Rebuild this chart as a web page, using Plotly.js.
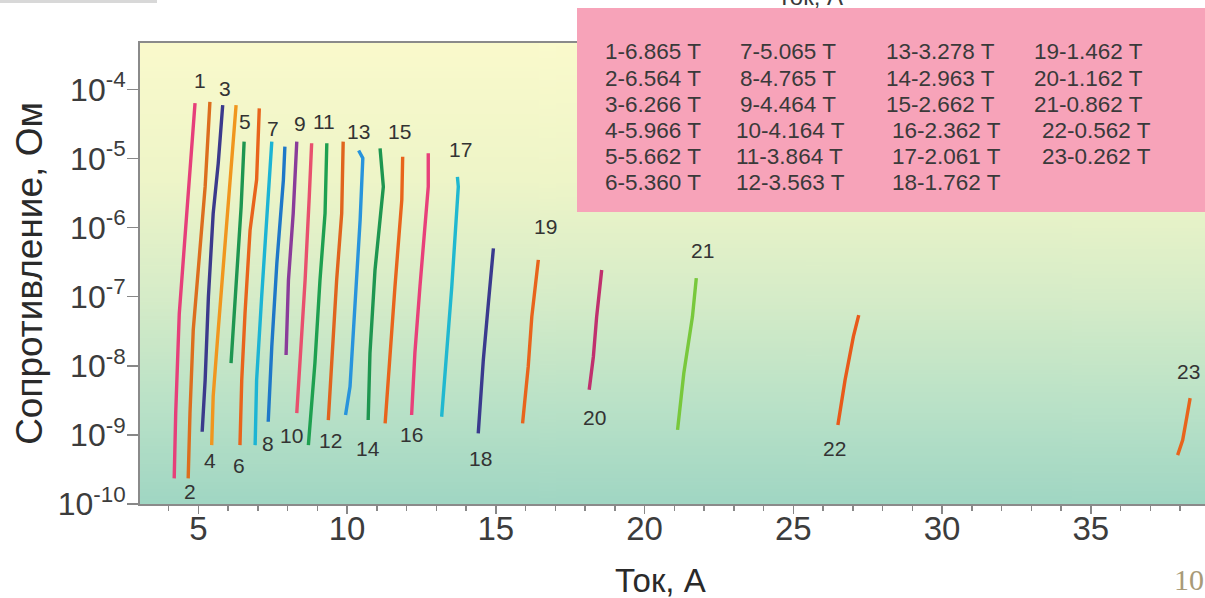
<!DOCTYPE html>
<html>
<head>
<meta charset="utf-8">
<script src="https://cdn.plot.ly/plotly-3.0.1.min.js"></script>
<style>
  html, body { margin: 0; padding: 0; background: #ffffff; }
  #chart { width: 1205px; height: 598px; }
</style>
</head>
<body>
<div id="chart"></div>
<script>
// ---- Data (current in A, resistance in Ohm), bottom -> top of each curve ----
const I1 = [4.19, 4.24, 4.36, 4.61, 4.80, 4.89];
const R1 = [2.35e-10, 2.06e-9, 5.7e-8, 1.61e-6, 1.48e-5, 6.3e-5];
const I2 = [4.66, 4.72, 4.83, 5.06, 5.23, 5.39];
const R2 = [2.35e-10, 2.06e-9, 3.3e-8, 5.3e-7, 3.9e-6, 6.6e-5];
const I3 = [5.13, 5.23, 5.34, 5.50, 5.67, 5.82];
const R3 = [1.11e-9, 6.2e-9, 1.0e-7, 1.6e-6, 8.5e-6, 5.9e-5];
const I4 = [5.45, 5.50, 5.67, 5.90, 6.12, 6.27];
const R4 = [7.1e-10, 3.6e-9, 3.3e-8, 5.3e-7, 8.5e-6, 5.9e-5];
const I5 = [6.10, 6.27, 6.44, 6.54];
const R5 = [1.09e-8, 1.74e-7, 2.0e-6, 1.75e-5];
const I6 = [6.40, 6.46, 6.57, 6.74, 6.96, 7.05];
const R6 = [7.1e-10, 6.2e-9, 5.7e-8, 9.2e-7, 4.9e-6, 5.3e-5];
const I7 = [6.91, 6.96, 7.13, 7.30, 7.47];
const R7 = [7.1e-10, 6.2e-9, 1.0e-7, 1.6e-6, 1.75e-5];
const I8 = [7.35, 7.47, 7.64, 7.86, 7.91];
const R8 = [1.55e-9, 1.89e-8, 3.04e-7, 4.9e-6, 1.48e-5];
const I9 = [7.95, 8.03, 8.19, 8.31];
const R9 = [1.43e-8, 1.74e-7, 1.6e-6, 1.75e-5];
const I10 = [8.31, 8.42, 8.59, 8.73, 8.81];
const R10 = [2.06e-9, 1.09e-8, 1.74e-7, 2.8e-6, 1.66e-5];
const I11 = [8.70, 8.92, 9.09, 9.26, 9.32];
const R11 = [7.1e-10, 1.09e-8, 1.74e-7, 1.6e-6, 1.66e-5];
const I12 = [9.37, 9.48, 9.65, 9.82, 9.87];
const R12 = [1.64e-9, 1.09e-8, 1.74e-7, 1.6e-6, 1.75e-5];
const I13 = [9.95, 10.10, 10.27, 10.44, 10.53, 10.39];
const R13 = [1.94e-9, 5.0e-9, 8.0e-8, 1.29e-6, 1.01e-5, 1.3e-5];
const I14 = [10.71, 10.77, 10.94, 11.22, 11.11];
const R14 = [1.64e-9, 1.52e-8, 2.43e-7, 3.9e-6, 1.40e-5];
const I15 = [11.28, 11.44, 11.61, 11.84, 11.87];
const R15 = [1.47e-9, 1.52e-8, 1.39e-7, 2.5e-6, 1.06e-5];
const I16 = [12.17, 12.28, 12.45, 12.73, 12.73];
const R16 = [1.94e-9, 1.52e-8, 1.39e-7, 3.9e-6, 1.19e-5];
const I17 = [13.18, 13.35, 13.52, 13.74, 13.71];
const R17 = [1.83e-9, 1.52e-8, 1.39e-7, 3.9e-6, 5.4e-6];
const I18 = [14.41, 14.58, 14.75, 14.92];
const R18 = [1.05e-9, 1.21e-8, 8.0e-8, 5.0e-7];
const I19 = [15.90, 16.09, 16.21, 16.43];
const R19 = [1.47e-9, 9.7e-9, 5.1e-8, 3.4e-7];
const I20 = [18.14, 18.28, 18.39, 18.56];
const R20 = [4.5e-9, 1.35e-8, 5.1e-8, 2.43e-7];
const I21 = [21.11, 21.32, 21.61, 21.74];
const R21 = [1.18e-9, 7.8e-9, 5.1e-8, 1.85e-7];
const I22 = [26.50, 26.74, 27.02, 27.20];
const R22 = [1.39e-9, 6.2e-9, 2.64e-8, 5.4e-8];
const I23 = [37.92, 38.09, 38.23, 38.34];
const R23 = [5.1e-10, 8.4e-10, 1.83e-9, 3.4e-9];

// Magnetic field (T) of each curve, numbered 1..23
const fieldT = ["6.865", "6.564", "6.266", "5.966", "5.662", "5.360", "5.065", "4.765",
                "4.464", "4.164", "3.864", "3.563", "3.278", "2.963", "2.662", "2.362",
                "2.061", "1.762", "1.462", "1.162", "0.862", "0.562", "0.262"];

// Tick labels and titles
const xTickVals = [5, 10, 15, 20, 25, 30, 35];
const yTickVals = [1e-10, 1e-9, 1e-8, 1e-7, 1e-6, 1e-5, 1e-4];
const yTickText = ["10<sup>-10</sup>", "10<sup>-9</sup>", "10<sup>-8</sup>", "10<sup>-7</sup>",
                   "10<sup>-6</sup>", "10<sup>-5</sup>", "10<sup>-4</sup>"];
const xTitle = "Ток, А";
const yTitle = "Сопротивление, Ом";

// ---- Styling (not data) ----
const series = [[I1,R1],[I2,R2],[I3,R3],[I4,R4],[I5,R5],[I6,R6],[I7,R7],[I8,R8],[I9,R9],[I10,R10],
                [I11,R11],[I12,R12],[I13,R13],[I14,R14],[I15,R15],[I16,R16],[I17,R17],[I18,R18],
                [I19,R19],[I20,R20],[I21,R21],[I22,R22],[I23,R23]];
const colors = ["#e63f7a", "#dc6e1e", "#3b3a8c", "#f0961e", "#1e9650", "#e8641c", "#1cb4d4",
                "#1e78c8", "#8a3c9a", "#e8506e", "#1ea050", "#e0641e", "#2894dc", "#1e9650",
                "#e8641c", "#e8407a", "#20b8d0", "#3a3a8e", "#e8641c", "#c0306e", "#78c83c",
                "#e85a1a", "#e8641c"];
// label offsets in px relative to curve end (top for odd, bottom for even)
const labelShift = {
  1:[5,23], 2:[2,-13], 3:[2,17], 4:[-2,-15], 5:[1,20], 6:[-1,-20], 7:[1,13], 8:[0,-22],
  9:[3,18], 10:[-5,-22], 11:[-3,22], 12:[2,-20], 13:[0,19], 14:[0,-28], 15:[-3,25], 16:[0,-20],
  17:[3,27], 18:[2,-25], 19:[7,33], 20:[5,-28], 21:[6,28], 22:[-3,-23], 23:[-2,27]
};

const FONT = "Liberation Sans, Arial, Helvetica, sans-serif";

const traces = series.map((s, i) => ({
  type: "scatter",
  mode: "lines",
  x: s[0],
  y: s[1],
  line: { color: colors[i], width: 3.4 },
  name: (i + 1) + "-" + fieldT[i] + " T",
  showlegend: false,
  hoverinfo: "skip"
}));

const annotations = [];
series.forEach((s, i) => {
  const n = i + 1;
  const k = (n % 2 === 1) ? s[1].indexOf(Math.max(...s[1])) : s[1].indexOf(Math.min(...s[1]));
  annotations.push({
    x: s[0][k], y: Math.log10(s[1][k]), xref: "x", yref: "y",
    text: String(n), showarrow: false,
    xshift: labelShift[n][0], yshift: labelShift[n][1],
    font: { family: FONT, size: 21, color: "#333333" }
  });
});

// pixel -> paper helpers for decoration
const PL = 140, PR = 1205, PT = 43, PB = 504;
const px2paperX = p => (p - PL) / (PR - PL);
const px2paperY = p => (PB - p) / (PB - PT);

// field legend inside the pink box
const colX = [603, 738, 884, 1032];
const colShift = [0, -4, 6, 8];
fieldT.forEach((f, i) => {
  const c = Math.floor(i / 6), r = i % 6;
  const x = colX[c] + (r >= 3 ? colShift[c] : 0);
  const y = 52 + 26 * r;
  annotations.push({
    xref: "paper", yref: "paper",
    x: px2paperX(x), y: px2paperY(y), xanchor: "left", yanchor: "middle",
    text: (i + 1) + "-" + f + " T", showarrow: false,
    font: { family: FONT, size: 22.5, color: "#3a3a3a" }
  });
});

// x-axis title (placed slightly left of centre, as in the reference)
annotations.push({
  xref: "paper", yref: "paper", x: px2paperX(660), y: px2paperY(580),
  xanchor: "center", yanchor: "middle", text: xTitle, showarrow: false,
  font: { family: FONT, size: 33, color: "#2a2a2a" }
});
// cut-off title of the chart above, and the page number
annotations.push({
  xref: "paper", yref: "paper", x: px2paperX(810), y: px2paperY(-4),
  xanchor: "center", yanchor: "middle", text: xTitle, showarrow: false,
  font: { family: FONT, size: 24, color: "#3a3a3a" }
});
annotations.push({
  xref: "paper", yref: "paper", x: px2paperX(1172), y: px2paperY(579),
  xanchor: "left", yanchor: "middle", text: "10", showarrow: false,
  font: { family: "Liberation Serif, Times New Roman, serif", size: 30, color: "#a89a78" }
});

// background gradient of the plot area
function gradientURL() {
  const cv = document.createElement("canvas");
  cv.width = 4; cv.height = 256;
  const ctx = cv.getContext("2d");
  const g = ctx.createLinearGradient(0, 0, 0, 256);
  g.addColorStop(0.0, "rgb(250,250,204)");
  g.addColorStop(0.3, "rgb(238,245,200)");
  g.addColorStop(0.55, "rgb(214,236,200)");
  g.addColorStop(0.8, "rgb(184,225,199)");
  g.addColorStop(1.0, "rgb(160,214,195)");
  ctx.fillStyle = g;
  ctx.fillRect(0, 0, 4, 256);
  return cv.toDataURL("image/png");
}

const layout = {
  width: 1205, height: 598,
  margin: { l: PL, r: 0, t: PT, b: 598 - PB, pad: 0 },
  paper_bgcolor: "#ffffff",
  plot_bgcolor: "rgba(0,0,0,0)",
  showlegend: false,
  font: { family: FONT, color: "#3a3a3a" },
  xaxis: {
    range: [3.04, 38.84],
    tickvals: xTickVals,
    ticks: "outside", ticklen: 8, tickwidth: 1.5, tickcolor: "#888888",
    minor: { dtick: 1, ticks: "outside", ticklen: 5, tickcolor: "#888888", tickwidth: 1.5 },
    showline: true, linecolor: "#8a8a8a", linewidth: 2, mirror: true,
    showgrid: false, zeroline: false,
    ticklabelstandoff: -14,
    tickfont: { family: FONT, size: 33, color: "#3c3c3c" }
  },
  yaxis: {
    type: "log",
    range: [-10, -3.33],
    tickvals: yTickVals, ticktext: yTickText,
    ticks: "outside", ticklen: 11, tickwidth: 1.5, tickcolor: "#888888",
    showline: true, linecolor: "#8a8a8a", linewidth: 2,
    showgrid: false, zeroline: false,
    ticklabelstandoff: -5,
    tickfont: { family: FONT, size: 32, color: "#3c3c3c" },
    title: { text: yTitle, standoff: 4, font: { family: FONT, size: 37, color: "#2a2a2a" } }
  },
  images: [{
    source: gradientURL(), xref: "paper", yref: "paper",
    x: 0, y: 1, sizex: 1, sizey: 1, sizing: "stretch", layer: "below", xanchor: "left", yanchor: "top"
  }],
  shapes: [
    { type: "rect", xref: "paper", yref: "paper",
      x0: px2paperX(577), x1: px2paperX(1206), y0: px2paperY(212), y1: px2paperY(8),
      fillcolor: "#f7a3b9", line: { width: 0 }, layer: "above" },
    { type: "rect", xref: "paper", yref: "paper",
      x0: px2paperX(0), x1: px2paperX(157), y0: px2paperY(3), y1: px2paperY(0),
      fillcolor: "#d8d8d8", line: { width: 0 } }
  ],
  annotations: annotations
};

Plotly.newPlot("chart", traces, layout, { displayModeBar: false, staticPlot: true });
</script>
</body>
</html>
